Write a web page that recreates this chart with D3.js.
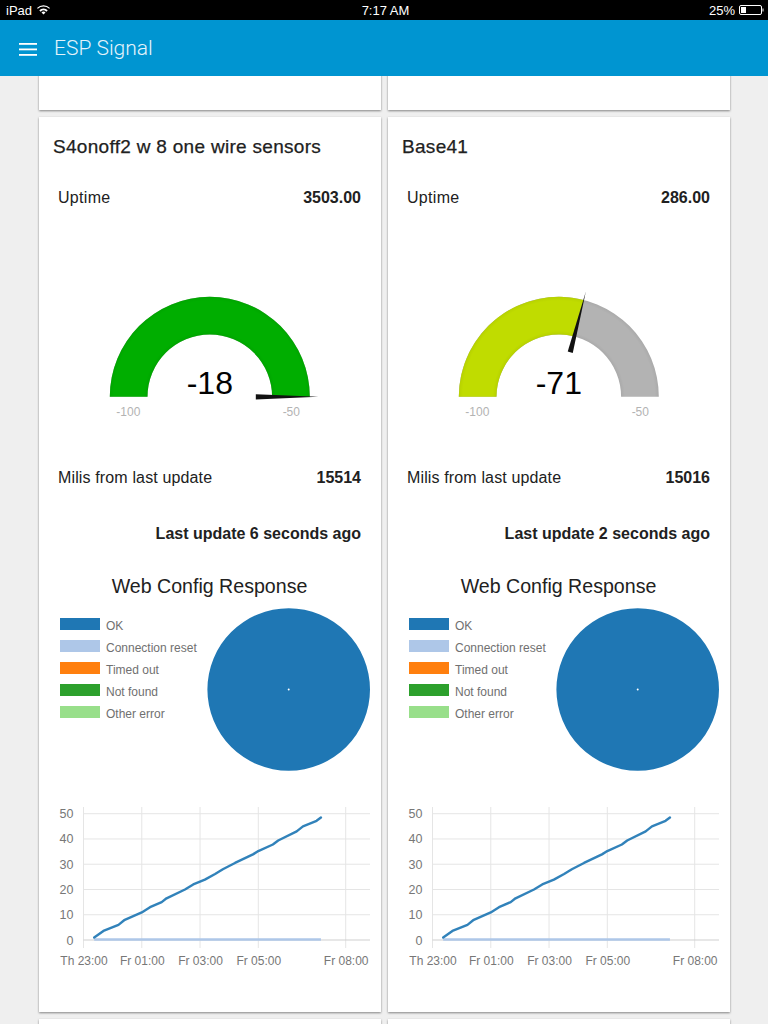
<!DOCTYPE html>
<html><head><meta charset="utf-8">
<script src="https://cdn.jsdelivr.net/npm/d3@7/dist/d3.min.js"></script>
<style>
html,body{margin:0;padding:0;background:#efefef;overflow:hidden}
svg{display:block}
text{font-family:"Liberation Sans",Arial,sans-serif}
</style></head><body>
<svg id="page" width="768" height="1024"></svg>
<script>
// ---- data ----
const deviceNames = ["S4onoff2 w 8 one wire sensors", "Base41"];
const uptimes = ["3503.00", "286.00"];
const rssiValues = [-18, -71];
const gaugeColors = ["#00ae00", "#c0dc00"];
const milis = ["15514", "15016"];
const lastUpdates = ["Last update 6 seconds ago", "Last update 2 seconds ago"];
const gaugeDomain = [-100, -50];
const pieCategories = ["OK", "Connection reset", "Timed out", "Not found", "Other error"];
const pieValues = [48, 0, 0, 0, 0];
const pieColors = ["#1f77b4", "#aec7e8", "#ff7f0e", "#2ca02c", "#98df8a"];
const lineTimes = ["23:22","23:41","00:12","00:25","01:00","01:17","01:41","01:51","02:29","02:46","03:10","03:31","03:47","04:05","04:12","04:49","05:00","05:30","05:41","06:19","06:32","07:00","07:09"];
const okCounts = [1,3.6,6,8,10.9,13,15,16.5,20,22,23.9,26.1,28,29.8,30.5,33.9,35.2,37.8,39.4,43,45,47.2,48.5];
const resetCounts = [0,0,0,0,0,0,0,0,0,0,0,0,0,0,0,0,0,0,0,0,0,0,0];
const xTickTimes = ["23:00","01:00","03:00","05:00","08:00"];
const xTickLabels = ["Th 23:00","Fr 01:00","Fr 03:00","Fr 05:00","Fr 08:00"];
const yTicks = [0,10,20,30,40,50];

// ---- helpers ----
const svg = d3.select("#page");
const defs = svg.append("defs");
const shadow = defs.append("filter").attr("id","cardShadow").attr("x","-5%").attr("y","-5%").attr("width","110%").attr("height","110%");
shadow.append("feDropShadow").attr("dx",0).attr("dy",1).attr("stdDeviation",1.2).attr("flood-color","#000").attr("flood-opacity",0.45);
const rimGrad = defs.append("radialGradient").attr("id","gaugeRim").attr("gradientUnits","userSpaceOnUse")
  .attr("cx",0).attr("cy",0).attr("r",100);
[[0.623,0.05],[0.66,0],[0.96,0],[1,0.05]].forEach(([o,a])=>{
  rimGrad.append("stop").attr("offset",o).attr("stop-color","#000").attr("stop-opacity",a);
});

const parseClock = s => {
  const [h,m] = s.split(":").map(Number);
  return new Date(2016,0,h>=12?1:2,h,m);
};
const lineTimeValues = lineTimes.map(parseClock);
const x = d3.scaleTime().domain([parseClock("23:00"),parseClock("08:00")]).range([83.5,345.7]);
const y = d3.scaleLinear().domain([0,50]).range([940,813.7]);
const angle = d3.scaleLinear().domain(gaugeDomain).range([-Math.PI/2,Math.PI/2]).clamp(true);
const pieGen = d3.pie().sort(null).value(d=>d);
const pieArc = d3.arc().innerRadius(1).outerRadius(81.3);
const gaugeArc = d3.arc().innerRadius(62.3).outerRadius(100);

// ---- page background cards ----
const cardXs = [39,388];
svg.selectAll("rect.stub").data(cardXs).join("rect").attr("class","stub")
  .attr("x",d=>d).attr("y",40).attr("width",342).attr("height",70).attr("fill","#fff").attr("filter","url(#cardShadow)");
svg.selectAll("rect.foot").data(cardXs).join("rect").attr("class","foot")
  .attr("x",d=>d).attr("y",1019).attr("width",342).attr("height",60).attr("fill","#fff").attr("filter","url(#cardShadow)");

// ---- cards ----
deviceNames.forEach((name,i)=>{
  const g = svg.append("g").attr("transform",`translate(${i*349},0)`);
  g.append("rect").attr("x",39).attr("y",117).attr("width",342).attr("height",895).attr("fill","#fff").attr("filter","url(#cardShadow)");
  const label = (t,xp,yp,o={})=>g.append("text").text(t).attr("x",xp).attr("y",yp)
    .attr("font-size",o.size||16).attr("font-weight",o.weight||400)
    .attr("letter-spacing",o.ls||0)
    .attr("text-anchor",o.anchor||"start").attr("fill",o.fill||"#212121");

  label(name,53,152.5,{size:19,weight:500,ls:0.3}).attr("stroke","#212121").attr("stroke-width",0.25);
  label("Uptime",58,203,{size:16,ls:0.3});
  label(uptimes[i],361,203,{size:16,weight:700,anchor:"end"});
  label("Milis from last update",58,483,{size:16,ls:0.14});
  label(milis[i],361,483,{size:16,weight:700,anchor:"end"});
  label(lastUpdates[i],361,539,{size:16,weight:700,anchor:"end"});
  label("Web Config Response",209.5,593,{size:19.6,anchor:"middle"});

  // gauge
  const cx = 209.8, cy = 396.8;
  const gg = g.append("g").attr("transform",`translate(${cx},${cy})`);
  const v = rssiValues[i];
  gg.append("path").attr("d",gaugeArc({startAngle:-Math.PI/2,endAngle:Math.PI/2})).attr("fill","#b3b3b3");
  gg.append("path").attr("d",gaugeArc({startAngle:-Math.PI/2,endAngle:angle(v)})).attr("fill",gaugeColors[i]);
  gg.append("path").attr("d",gaugeArc({startAngle:-Math.PI/2,endAngle:Math.PI/2})).attr("fill","url(#gaugeRim)");
  const a = angle(v);
  const ux = Math.sin(a), uy = -Math.cos(a), px = -uy, py = ux;
  const r0 = 46, r1 = 108.5, hw = 2.6;
  gg.append("path").attr("fill","#111")
    .attr("d",`M${r0*ux+hw*px},${r0*uy+hw*py}L${r1*ux},${r1*uy}L${r0*ux-hw*px},${r0*uy-hw*py}Z`);
  label(String(v),cx,393.5,{size:32,anchor:"middle",fill:"#010101"});
  label(String(gaugeDomain[0]),cx-81.5,416,{size:12,anchor:"middle",fill:"#b3b3b3"});
  label(String(gaugeDomain[1]),cx+81.5,416,{size:12,anchor:"middle",fill:"#b3b3b3"});

  // legend
  const lg = g.append("g");
  lg.selectAll("rect").data(pieCategories).join("rect")
    .attr("x",60).attr("y",(d,k)=>618+k*22).attr("width",40).attr("height",12).attr("fill",(d,k)=>pieColors[k]);
  lg.selectAll("text").data(pieCategories).join("text").text(d=>d)
    .attr("x",106).attr("y",(d,k)=>629.5+k*22).attr("font-size",12).attr("fill","#707070");

  // pie
  g.append("g").attr("transform","translate(288.7,689.5)")
    .selectAll("path").data(pieGen(pieValues)).join("path")
    .attr("d",pieArc).attr("fill",(d,k)=>pieColors[k]);

  // line chart
  const c = g.append("g");
  c.append("g").selectAll("line").data(xTickTimes).join("line")
    .attr("x1",d=>x(parseClock(d))).attr("x2",d=>x(parseClock(d))).attr("y1",807).attr("y2",948)
    .attr("stroke","#e5e5e5");
  c.append("g").selectAll("line").data(yTicks).join("line")
    .attr("x1",83.5).attr("x2",370).attr("y1",d=>y(d)).attr("y2",d=>y(d))
    .attr("stroke",d=>d===0?"#cfcfcf":"#e5e5e5");
  const xAxis = d3.axisBottom(x).tickValues(xTickTimes.map(parseClock))
    .tickFormat((d,k)=>xTickLabels[k]).tickSize(0).tickPadding(0);
  const xa = c.append("g").attr("transform","translate(0,965)").call(xAxis);
  xa.select(".domain").remove();
  xa.selectAll("text").attr("font-size",12).attr("fill","#777").attr("font-family",'"Liberation Sans"').attr("y",0).attr("dy",0);
  const yAxis = d3.axisLeft(y).tickValues(yTicks).tickSize(0).tickPadding(0);
  const ya = c.append("g").attr("transform","translate(73.5,0)").call(yAxis);
  ya.select(".domain").remove();
  ya.selectAll("text").attr("font-size",12.5).attr("fill","#777").attr("font-family",'"Liberation Sans"');
  const line = d3.line().x((d,k)=>x(lineTimeValues[k])).y(d=>y(d));
  c.append("path").attr("d",line(resetCounts)).attr("transform","translate(0,-0.5)").attr("fill","none").attr("stroke","#aec7e8").attr("stroke-width",2.4);
  c.append("path").attr("d",line(okCounts)).attr("fill","none").attr("stroke","#1f77b4").attr("stroke-width",2.4).attr("stroke-opacity",0.92).attr("stroke-linecap","round").attr("stroke-linejoin","round");
});

// ---- app bar ----
svg.append("rect").attr("x",0).attr("y",20).attr("width",768).attr("height",56).attr("fill","#0095d1");
svg.append("g").selectAll("rect").data([0,1,2]).join("rect")
  .attr("x",19).attr("y",d=>43+d*5.5).attr("width",18).attr("height",1.8).attr("fill","#fff");
svg.append("text").text("ESP Signal").attr("x",54).attr("y",55).attr("font-size",21)
  .attr("fill","#e4f3fb").style("font-family","Roboto").attr("font-weight",300);

// ---- status bar ----
svg.append("rect").attr("width",768).attr("height",20).attr("fill","#000");
const st = (t,xp,an)=>svg.append("text").text(t).attr("x",xp).attr("y",15).attr("font-size",13).attr("fill","#fff").attr("text-anchor",an);
st("iPad",6,"start");
st("7:17 AM",385.5,"middle");
st("25%",735,"end");
const wifi = svg.append("g").attr("transform","translate(43.5,14.5)");
[[0,3],[4,6.2],[8,9.4]].forEach(([ri,ro])=>{
  wifi.append("path").attr("fill","#fff").attr("d",d3.arc().innerRadius(ri).outerRadius(ro-0.2).startAngle(-Math.PI/4).endAngle(Math.PI/4)());
});
svg.append("rect").attr("x",739.5).attr("y",5.5).attr("width",22).attr("height",9).attr("rx",1.5).attr("fill","none").attr("stroke","#fff");
svg.append("rect").attr("x",741).attr("y",7).attr("width",5).attr("height",6).attr("fill","#fff");
svg.append("rect").attr("x",762.5).attr("y",8.5).attr("width",1).attr("height",3).attr("fill","#fff");
</script>
</body></html>
